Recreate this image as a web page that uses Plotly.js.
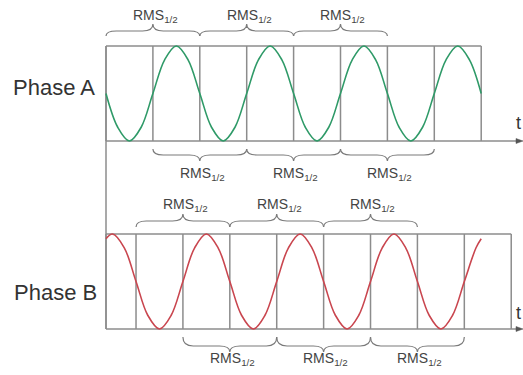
<!DOCTYPE html>
<html>
<head>
<meta charset="utf-8">
<script src="https://cdn.plot.ly/plotly-3.0.1.min.js"></script>
<style>html,body{margin:0;padding:0;background:#fff;}#chart{width:523px;height:375px;}</style>
</head>
<body>
<div id="chart"></div>
<script>
// ---- data (time in half-cycle units, amplitude normalised) ----
const phaseA_t = [0,0.25,0.5,0.75,1,1.25,1.5,1.75,2,2.25,2.5,2.75,3,3.25,3.5,3.75,4,4.25,4.5,4.75,5,5.25,5.5,5.75,6,6.25,6.5,6.75,7,7.25,7.5,7.75,8];
const phaseA_v = [0,-0.71,-1,-0.71,0,0.71,1,0.71,0,-0.71,-1,-0.71,0,0.71,1,0.71,0,-0.71,-1,-0.71,0,0.71,1,0.71,0,-0.71,-1,-0.71,0,0.71,1,0.71,0];
const phaseB_t = [0,0.14,0.39,0.64,0.89,1.14,1.39,1.64,1.89,2.14,2.39,2.64,2.89,3.14,3.39,3.64,3.89,4.14,4.39,4.64,4.89,5.14,5.39,5.64,5.89,6.14,6.39,6.64,6.89,7.14,7.39,7.64,7.89,8.0];
const phaseB_v = [0.90,1,0.71,0,-0.71,-1,-0.71,0,0.71,1,0.71,0,-0.71,-1,-0.71,0,0.71,1,0.71,0,-0.71,-1,-0.71,0,0.71,1,0.71,0,-0.71,-1,-0.71,0,0.71,0.90];
const gridA = [0,1,2,3,4,5,6,7,8];
const gridB = [0,0.64,1.64,2.64,3.64,4.64,5.64,6.64,7.64,8.64];
const bracesA_top = [[0,2],[2,4],[4,6]];
const bracesA_bottom = [[1,3],[3,5],[5,7]];
const bracesB_top = [[0.64,2.64],[2.64,4.64],[4.64,6.64]];
const bracesB_bottom = [[1.64,3.64],[3.64,5.64],[5.64,7.64]];
const phaseLabels = ['Phase A','Phase B'];
const rmsLabel = 'RMS<sub>1/2</sub>';
const axisLabel = 't';

// ---- layout helpers ----
const W = 523, H = 375, CELL = 46.9, X0 = 106;
const ux = px => (px - X0) / CELL;
const py = px => 1 - px / H;
const GRID = {color:'#8c8c8c', width:1.5};
const BRACE = {color:'#7a7a7a', width:1.2};
const FONT = '"Liberation Sans", Arial, Helvetica, sans-serif';

const shapes = [];
function vline(x, y0, y1, yref){ shapes.push({type:'line', xref:'x', yref:yref, x0:x, x1:x, y0:y0, y1:y1, line:GRID, layer:'below'}); }
function hline(x0, x1, y, yref){ shapes.push({type:'line', xref:'x', yref:yref, x0:x0, x1:x1, y0:y, y1:y, line:GRID, layer:'below'}); }

// left spine
vline(0, py(46), py(329), 'paper');
// Phase A box + grid
hline(0, gridA[gridA.length-1], 1, 'y');
gridA.forEach(g => vline(g, -1, 1, 'y'));
hline(0, ux(519), -1, 'y');
// Phase B box + grid
hline(0, gridB[gridB.length-1], 1, 'y2');
gridB.forEach(g => vline(g, -1, 1, 'y2'));
hline(0, ux(519), -1, 'y2');
// arrowheads
function arrow(yPx){
  shapes.push({type:'path', xref:'x', yref:'paper', fillcolor:'#555', line:{color:'#555', width:0.5},
    path:`M ${ux(516)},${py(yPx-2.5)} L ${ux(523)},${py(yPx)} L ${ux(516)},${py(yPx+2.5)} Z`});
}
arrow(141); arrow(329);

// braces
function brace(x1, x2, yEnd, yFlat, yTip){
  const q = 0.22, xm = (x1 + x2) / 2;
  const P = (x, y) => `${x},${py(y)}`;
  const path = `M ${P(x1,yEnd)} Q ${P(x1,yFlat)} ${P(x1+q,yFlat)} L ${P(xm-q,yFlat)} Q ${P(xm,yFlat)} ${P(xm,yTip)} ` +
               `Q ${P(xm,yFlat)} ${P(xm+q,yFlat)} L ${P(x2-q,yFlat)} Q ${P(x2,yFlat)} ${P(x2,yEnd)}`;
  shapes.push({type:'path', xref:'x', yref:'paper', path:path, line:BRACE});
}
const annotations = [];
function rms(x, yPx){
  annotations.push({text:rmsLabel, xref:'x', yref:'paper', x:x + 0.05, y:py(yPx), showarrow:false,
    xanchor:'center', yanchor:'middle', font:{family:FONT, size:14, color:'#444'}});
}
bracesA_top.forEach(b => { brace(b[0], b[1], 36, 31, 24); rms((b[0]+b[1])/2, 16); });
bracesA_bottom.forEach(b => { brace(b[0], b[1], 149, 155, 161); rms((b[0]+b[1])/2, 174); });
bracesB_top.forEach(b => { brace(b[0], b[1], 227, 221, 214); rms((b[0]+b[1])/2, 205); });
bracesB_bottom.forEach(b => { brace(b[0], b[1], 337, 346, 352); rms((b[0]+b[1])/2, 359); });

annotations.push({text:phaseLabels[0], xref:'paper', yref:'paper', x:97/W, y:py(87), xanchor:'right', yanchor:'middle', showarrow:false, font:{family:FONT, size:22, color:'#333'}});
annotations.push({text:phaseLabels[1], xref:'paper', yref:'paper', x:99/W, y:py(292), xanchor:'right', yanchor:'middle', showarrow:false, font:{family:FONT, size:22, color:'#333'}});
annotations.push({text:axisLabel, xref:'paper', yref:'paper', x:514/W, y:py(123), xanchor:'left', yanchor:'middle', showarrow:false, font:{family:FONT, size:18, color:'#333'}});
annotations.push({text:axisLabel, xref:'paper', yref:'paper', x:514/W, y:py(313), xanchor:'left', yanchor:'middle', showarrow:false, font:{family:FONT, size:18, color:'#333'}});

const traces = [
  {x:phaseA_t, y:phaseA_v, xaxis:'x', yaxis:'y', mode:'lines', line:{color:'#2f9a68', width:1.6, shape:'spline', smoothing:1}, hoverinfo:'skip'},
  {x:phaseB_t, y:phaseB_v, xaxis:'x', yaxis:'y2', mode:'lines', line:{color:'#c9464f', width:1.6, shape:'spline', smoothing:1}, hoverinfo:'skip'}
];

const layout = {
  width:W, height:H, margin:{l:0, r:0, t:0, b:0}, showlegend:false,
  paper_bgcolor:'#fff', plot_bgcolor:'rgba(0,0,0,0)',
  xaxis:{range:[ux(0), ux(W)], visible:false, fixedrange:true, anchor:'y'},
  yaxis:{range:[-1.1, 1.1], domain:[py(145.75), py(41.25)], visible:false, fixedrange:true, anchor:'x'},
  yaxis2:{range:[-1.1, 1.1], domain:[py(333.75), py(229.25)], visible:false, fixedrange:true, anchor:'x'},
  shapes:shapes, annotations:annotations
};
Plotly.newPlot('chart', traces, layout, {staticPlot:true, displayModeBar:false});
</script>
</body>
</html>
